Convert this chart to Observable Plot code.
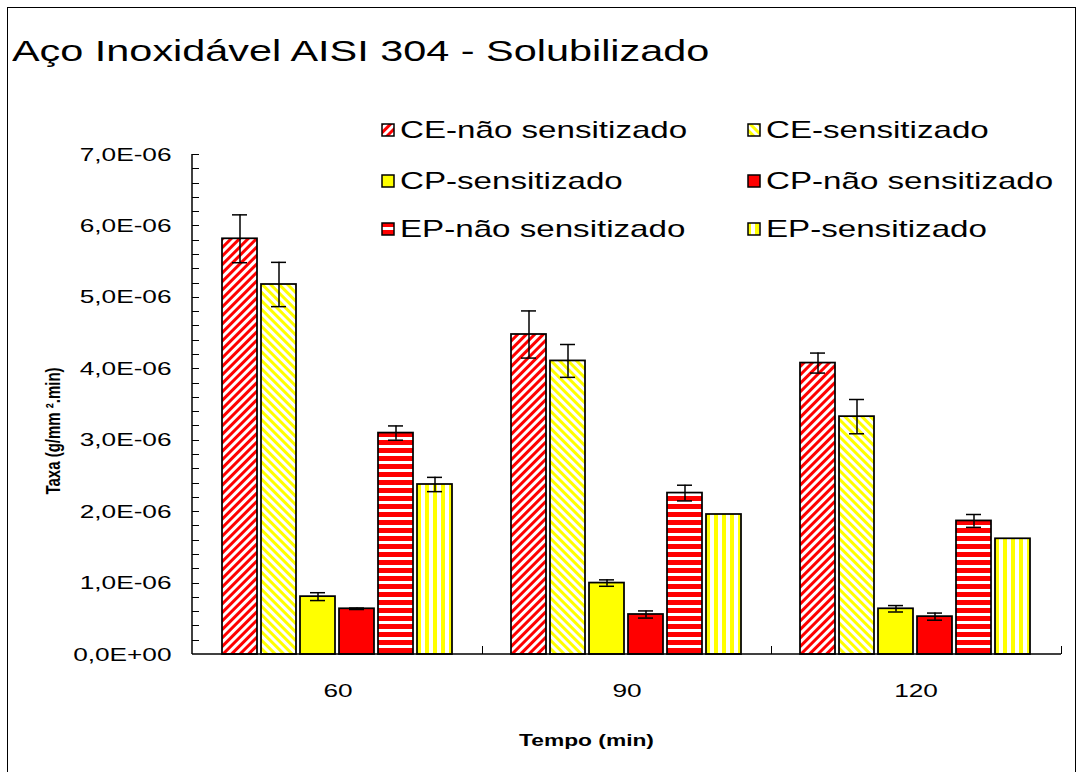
<!DOCTYPE html>
<html>
<head>
<meta charset="utf-8">
<script src="https://cdn.jsdelivr.net/npm/d3@7"></script>
<script src="https://cdn.jsdelivr.net/npm/@observablehq/plot@0.6"></script>
<style>
  body { margin: 0; background: #fff; font-family: "Liberation Sans", Arial, sans-serif; }
  #page { position: relative; width: 1087px; height: 772px; overflow: hidden; background: #fff; }
  #chart { position: absolute; left: 0; top: 0; }
  #frame { position: absolute; left: 7px; top: 7px; width: 1069px; height: 820px; border: 1px solid #000; box-sizing: border-box; pointer-events: none; }
  .stretch { position: absolute; white-space: nowrap; transform: scaleX(1.38); transform-origin: 0 0; color: #000; }
  #title { left: 12px; top: 36px; font-size: 30px; line-height: 30px; }
  .legend-item { position: absolute; height: 24px; }
  .legend-item svg { position: absolute; left: 0; top: 5px; }
  .legend-item .lbl { left: 19px; top: 0; font-size: 24px; line-height: 24px; }
</style>
</head>
<body>
<div id="page">
  <div id="chart"></div>
  <div id="frame"></div>
  <div id="title" class="stretch">Aço Inoxidável AISI 304 - Solubilizado</div>
  <div id="legend"></div>
</div>
<script>
// Categories (time in minutes) and the six test series
const tempos = ["60", "90", "120"];
const series = [
  "CE-não sensitizado", "CE-sensitizado",
  "CP-sensitizado", "CP-não sensitizado",
  "EP-não sensitizado", "EP-sensitizado"
];

// Corrosion rate (g/mm².min) per series, one value per time
const ceNaoSens    = [5.82e-6, 4.48e-6, 4.08e-6];
const ceSens       = [5.18e-6, 4.11e-6, 3.33e-6];
const cpSens       = [0.81e-6, 1.00e-6, 0.64e-6];
const cpNaoSens    = [0.64e-6, 0.56e-6, 0.53e-6];
const epNaoSens    = [3.10e-6, 2.26e-6, 1.87e-6];
const epSens       = [2.38e-6, 1.96e-6, 1.62e-6];

// Half-widths of the error bars (0 = no error bar)
const ceNaoSensErr = [0.335e-6, 0.33e-6, 0.14e-6];
const ceSensErr    = [0.31e-6, 0.23e-6, 0.24e-6];
const cpSensErr    = [0.055e-6, 0.045e-6, 0.045e-6];
const cpNaoSensErr = [0.01e-6, 0.05e-6, 0.05e-6];
const epNaoSensErr = [0.10e-6, 0.11e-6, 0.09e-6];
const epSensErr    = [0.10e-6, 0, 0];

// Y tick values and the minor tick step
const yTicks = [0, 1e-6, 2e-6, 3e-6, 4e-6, 5e-6, 6e-6, 7e-6];
const yMinorStep = 0.2e-6;

const valuesBySeries = [ceNaoSens, ceSens, cpSens, cpNaoSens, epNaoSens, epSens];
const errorsBySeries = [ceNaoSensErr, ceSensErr, cpSensErr, cpNaoSensErr, epNaoSensErr, epSensErr];
const patternIds = ["pCEnao", "pCEsens", "pCPsens", "pCPnao", "pEPnao", "pEPsens"];
const fills = patternIds.map(id => `url(#${id})`);

const rows = [];
series.forEach((s, i) => tempos.forEach((t, j) => rows.push({
  tempo: t, serie: s, valor: valuesBySeries[i][j], erro: errorsBySeries[i][j]
})));

const fmt = v => v === 0 ? "0,0E+00" : (v * 1e6).toFixed(1).replace(".", ",") + "E-06";
const FONT = "'Liberation Sans', Arial, sans-serif";
const K = 1.38; // horizontal text stretch

const chart = Plot.plot({
  width: 1087,
  height: 772,
  marginLeft: 192,
  marginRight: 26,
  marginTop: 154,
  marginBottom: 118,
  style: { fontFamily: FONT, fontSize: "19px", color: "black", background: "transparent" },
  fx: { domain: tempos, padding: 0, axis: "bottom", label: null, tickSize: 0, tickPadding: 29 },
  x: { domain: series, axis: null, paddingInner: 0.1, paddingOuter: 0.67 },
  y: { domain: [0, 7e-6], ticks: yTicks, tickSize: 0, tickPadding: 22, tickFormat: fmt, label: null },
  color: { type: "ordinal", domain: series, range: fills },
  marks: [
    Plot.barY(rows, { fx: "tempo", x: "serie", y: "valor", fill: "serie", stroke: "black", strokeWidth: 1.75 }),
    Plot.ruleX(rows, { filter: d => d.erro > 0, fx: "tempo", x: "serie",
      y1: d => d.valor - d.erro, y2: d => d.valor + d.erro, stroke: "black", strokeWidth: 1.5 }),
    Plot.tickY(rows, { filter: d => d.erro > 0, fx: "tempo", x: "serie",
      y: d => d.valor - d.erro, insetLeft: 10, insetRight: 10, stroke: "black", strokeWidth: 1.5 }),
    Plot.tickY(rows, { filter: d => d.erro > 0, fx: "tempo", x: "serie",
      y: d => d.valor + d.erro, insetLeft: 10, insetRight: 10, stroke: "black", strokeWidth: 1.5 })
  ]
});
document.getElementById("chart").appendChild(chart);

const svg = d3.select(chart);
const NS = "http://www.w3.org/2000/svg";

// Fill patterns: diagonal, horizontal and vertical stripes plus solids
const defs = svg.insert("defs", ":first-child");
function stripes(id, color, size, stripe, rotate) {
  const p = defs.append("pattern").attr("id", id).attr("patternUnits", "userSpaceOnUse")
    .attr("width", size).attr("height", size);
  if (rotate) p.attr("patternTransform", `rotate(${rotate})`);
  p.append("rect").attr("width", size).attr("height", size).attr("fill", "white");
  p.append("rect").attr("width", stripe).attr("height", size).attr("fill", color);
}
stripes("pCEnao", "#ff0000", 6, 3, 45);
stripes("pCEsens", "#ffff00", 6, 3, -45);
stripes("pEPsens", "#ffff00", 8, 4, 0);
stripes("pEPnao", "#ff0000", 8, 5, 90);
defs.append("pattern").attr("id", "pCPsens").attr("patternUnits", "userSpaceOnUse").attr("width", 4).attr("height", 4)
  .append("rect").attr("width", 4).attr("height", 4).attr("fill", "#ffff00");
defs.append("pattern").attr("id", "pCPnao").attr("patternUnits", "userSpaceOnUse").attr("width", 4).attr("height", 4)
  .append("rect").attr("width", 4).attr("height", 4).attr("fill", "#ff0000");

// Stretch the axis labels horizontally about their anchors
svg.selectAll("text").each(function () {
  const x = parseFloat(this.getAttribute("x")) || 0;
  const t = this.getAttribute("transform") || "";
  this.setAttribute("transform", `${t} translate(${x},0) scale(${K},1) translate(${-x},0)`);
});

// Axis lines and inside ticks, positioned with the plot's scales
const ySc = chart.scale("y");
const yPos = v => ySc.range[0] + (v - ySc.domain[0]) / (ySc.domain[1] - ySc.domain[0]) * (ySc.range[1] - ySc.range[0]);
const fxSc = chart.scale("fx");
const fxRange = fxSc.range || [192, 1061];
const left = fxRange[0], right = fxRange[1];
const groupStep = (right - left) / tempos.length;

const axes = svg.append("g").attr("stroke", "black").attr("fill", "none");
axes.append("line").attr("x1", left).attr("x2", left).attr("y1", yPos(7e-6)).attr("y2", yPos(0)).attr("stroke-width", 1.5);
axes.append("line").attr("x1", left).attr("x2", right).attr("y1", yPos(0)).attr("y2", yPos(0)).attr("stroke-width", 1.5);
const nMinor = Math.round(7e-6 / yMinorStep);
for (let i = 1; i <= nMinor; i++) {
  const yy = Math.round(yPos(i * yMinorStep)) + 0.5;
  axes.append("line").attr("x1", left).attr("x2", left + 7).attr("y1", yy).attr("y2", yy).attr("stroke-width", 1);
}
for (let i = 1; i <= tempos.length; i++) {
  const xx = Math.round(left + i * groupStep) + 0.5;
  axes.append("line").attr("x1", xx).attr("x2", xx).attr("y1", yPos(0)).attr("y2", yPos(0) - 8).attr("stroke-width", 1);
}

// Axis titles
svg.append("text")
  .attr("transform", `translate(${(left + right) / 2 - 40},746) scale(${K},1)`)
  .attr("text-anchor", "middle").attr("font-weight", "bold").attr("font-size", 16.5)
  .attr("font-family", FONT).attr("fill", "black")
  .text("Tempo (min)");
svg.append("text")
  .attr("transform", `translate(60,${yPos(3.5e-6) + 27}) scale(${K},1) rotate(-90)`)
  .attr("text-anchor", "middle").attr("font-weight", "bold").attr("font-size", 15)
  .attr("font-family", FONT).attr("fill", "black")
  .text("Taxa (g/mm ².min)");

// Legend: two columns, three rows, in series order
const legendCols = [381, 747];
const legendRows = [130, 181, 229];
const legend = document.getElementById("legend");
series.forEach((s, i) => {
  const item = document.createElement("div");
  item.className = "legend-item";
  item.style.left = legendCols[i % 2] + "px";
  item.style.top = (legendRows[Math.floor(i / 2)] - 12) + "px";
  const sw = document.createElementNS(NS, "svg");
  sw.setAttribute("width", 14); sw.setAttribute("height", 14);
  const r = document.createElementNS(NS, "rect");
  r.setAttribute("x", 1); r.setAttribute("y", 1); r.setAttribute("width", 12); r.setAttribute("height", 12);
  r.setAttribute("fill", fills[i]); r.setAttribute("stroke", "black"); r.setAttribute("stroke-width", 1.5);
  sw.appendChild(r);
  item.appendChild(sw);
  const lbl = document.createElement("div");
  lbl.className = "lbl stretch";
  lbl.textContent = s;
  item.appendChild(lbl);
  legend.appendChild(item);
});
</script>
</body>
</html>
